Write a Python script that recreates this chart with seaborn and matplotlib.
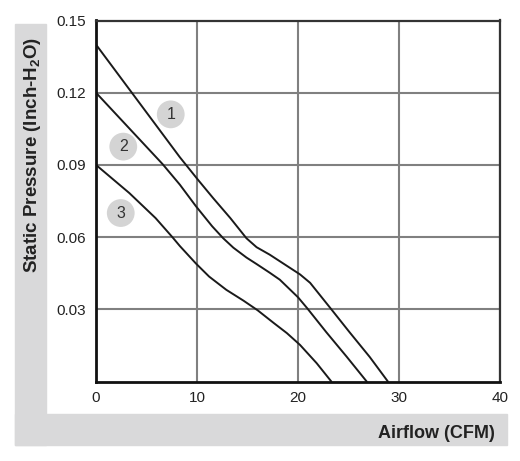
import pandas as pd
import matplotlib.pyplot as plt
import seaborn as sns
from matplotlib.patches import Rectangle

# 曲线数据（风量 CFM / 静压 Inch-H2O）
curve1_x = [0, 8.3, 10.1, 11.6, 13.3, 14.9, 15.9, 17.2, 20.2, 21.2, 23.3, 25.1, 27.1, 28.9]
curve1_y = [0.140, 0.0932, 0.0838, 0.0762, 0.0679, 0.0595, 0.0558, 0.0527, 0.0445, 0.0410,
            0.0300, 0.0205, 0.0102, 0.0]
curve2_x = [0, 5, 6.6, 8.3, 9.9, 11.5, 12.6, 13.6, 14.9, 15.9, 17.2, 18.2, 20.0, 20.9,
            22.8, 24.8, 26.8]
curve2_y = [0.120, 0.0975, 0.0903, 0.0818, 0.0728, 0.0645, 0.0595, 0.0556, 0.0515, 0.0488,
            0.0452, 0.0423, 0.0350, 0.0305, 0.0205, 0.0104, 0.0]
curve3_x = [0, 3.3, 5.9, 7.6, 8.3, 9.9, 11.2, 12.9, 14.6, 16.0, 17.6, 18.9, 20.2, 21.85, 23.3]
curve3_y = [0.090, 0.0783, 0.0679, 0.0598, 0.0563, 0.0490, 0.0436, 0.0381, 0.0336, 0.0296,
            0.0243, 0.0201, 0.0152, 0.0076, 0.0]

# 圆形编号标记
badge_labels = ['1', '2', '3']
badge_x = [7.4, 2.7, 2.45]
badge_y = [0.111, 0.0976, 0.070]

x_ticks = [0, 10, 20, 30, 40]
y_ticks = [0.03, 0.06, 0.09, 0.12, 0.15]
y_tick_labels = ['0.03', '0.06', '0.09', '0.12', '0.15']

sns.set_style("white")
plt.rcParams['font.family'] = ['Liberation Sans', 'DejaVu Sans']
plt.rcParams['mathtext.fontset'] = 'custom'
plt.rcParams['mathtext.bf'] = 'Liberation Sans:bold'
plt.rcParams['mathtext.rm'] = 'Liberation Sans'

df = pd.concat([
    pd.DataFrame({'airflow': curve1_x, 'pressure': curve1_y, 'curve': '1'}),
    pd.DataFrame({'airflow': curve2_x, 'pressure': curve2_y, 'curve': '2'}),
    pd.DataFrame({'airflow': curve3_x, 'pressure': curve3_y, 'curve': '3'}),
])

fig = plt.figure(figsize=(5.2, 4.61), dpi=100)

# L 形灰色背景条
gray = '#d9d9da'
fig.patches.append(Rectangle((15 / 520, 1 - 445 / 461), 31 / 520, 421 / 461,
                             transform=fig.transFigure, color=gray, zorder=0))
fig.patches.append(Rectangle((15 / 520, 1 - 445 / 461), 492 / 520, 31 / 461,
                             transform=fig.transFigure, color=gray, zorder=0))

ax = fig.add_axes([96 / 520, 1 - 381.5 / 461, 404 / 520, 361 / 461])
ax.set_facecolor('white')

sns.lineplot(data=df, x='airflow', y='pressure', units='curve', estimator=None,
             color='#1a1a1a', linewidth=1.4, sort=False, ax=ax, legend=False)
for line in ax.lines:
    line.set_solid_joinstyle('round')

ax.scatter(badge_x, badge_y, s=400, color='#d4d4d4', edgecolors='none', zorder=3)
for lbl, bx, by in zip(badge_labels, badge_x, badge_y):
    ax.text(bx, by, lbl, ha='center', va='center', fontsize=11.5, color='#333333', zorder=4)

ax.set_xlim(0, 40)
ax.set_ylim(0, 0.15)
ax.set_xticks(x_ticks)
ax.set_yticks(y_ticks)
ax.set_yticklabels(y_tick_labels)
ax.grid(True, color='#808080', linewidth=1.5)
ax.set_axisbelow(True)
ax.tick_params(length=0, labelsize=11, labelcolor='#222222', pad=7)
ax.set_xlabel('')
ax.set_ylabel('')

for side in ['left', 'bottom']:
    ax.spines[side].set_color('#111111')
    ax.spines[side].set_linewidth(2)
for side in ['top', 'right']:
    ax.spines[side].set_color('#333333')
    ax.spines[side].set_linewidth(1.6)

fig.text(33 / 520, 1 - 155 / 461, r'Static Pressure (Inch-H$_\mathbf{2}$O)',
         rotation=90, ha='center', va='center', fontsize=13.5, fontweight='bold', color='#222222')
fig.text(495 / 520, 1 - 433 / 461, 'Airflow (CFM)', ha='right', va='center',
         fontsize=13, fontweight='bold', color='#222222')

fig.savefig('out.png', dpi=100)
